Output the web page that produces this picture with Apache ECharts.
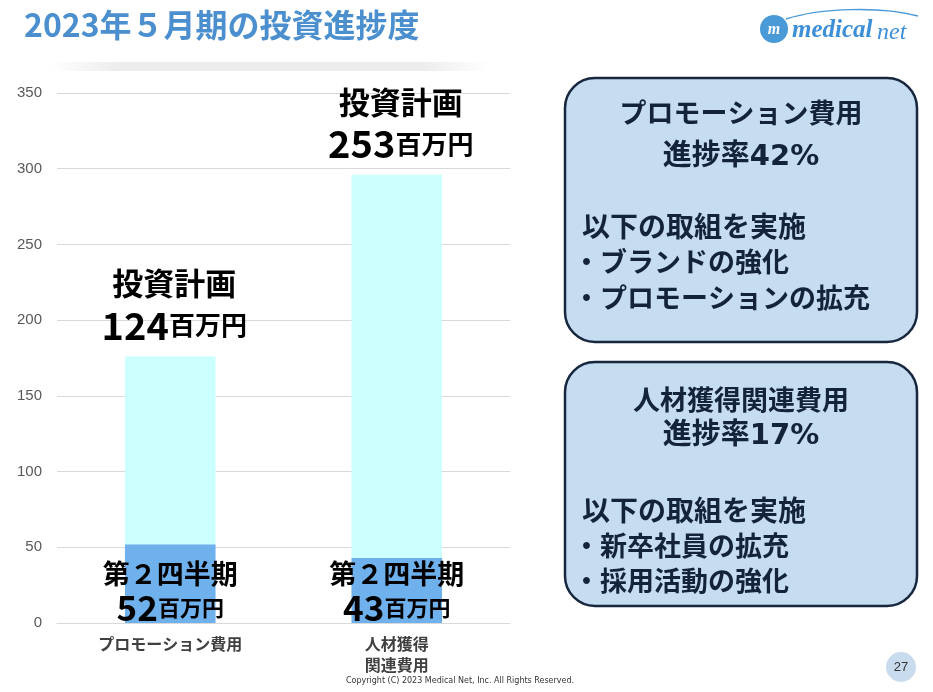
<!DOCTYPE html>
<html><head><meta charset="utf-8">
<script src="https://cdn.jsdelivr.net/npm/echarts@6/dist/echarts.min.js"></script>
<style>html,body{margin:0;padding:0;background:#fff}#c{width:933px;height:692px}</style>
</head><body><div id="c"></div>
<script>
const categories = ['プロモーション費用', '人材獲得\n関連費用'];
const q2Values = [52, 43];
const planValues = [124, 253];
const yTicks = { min: 0, max: 350, interval: 50 };
const box1Lines = ['プロモーション費用', '進捗率42%', '以下の取組を実施', '・ブランドの強化', '・プロモーションの拡充'];
const box2Lines = ['人材獲得関連費用', '進捗率17%', '以下の取組を実施', '・新卒社員の拡充', '・採用活動の強化'];

const FF = '"Noto Sans CJK JP", "Noto Sans", sans-serif';
const FD = '"DejaVu Sans", "Noto Sans CJK JP", sans-serif';
const chart = echarts.init(document.getElementById('c'), null, { renderer: 'canvas' });

function boxGraphics(y0, h, lines, ys) {
  const out = [{
    type: 'rect', shape: { x: 565, y: y0, width: 352, height: h, r: 30 },
    style: { fill: '#c6dcf0', stroke: '#17273d', lineWidth: 2.5 }
  }];
  const fonts = ['bold 27px ' + FF, 'bold 29px ' + FD, 'bold 28px ' + FF, 'bold 27px ' + FF, 'bold 27px ' + FF];
  const xs = [741, 741, 582, 573, 573];
  lines.forEach((t, i) => {
    out.push({
      type: 'text', x: xs[i], y: ys[i],
      style: { text: t, fill: '#13233a', font: fonts[i],
        textAlign: i < 2 ? 'center' : 'left', textVerticalAlign: 'middle' }
    });
  });
  return out;
}

const option = {
  animation: false,
  backgroundColor: '#ffffff',
  grid: { left: 57, right: 423, top: 93, bottom: 69 },
  xAxis: {
    type: 'category', data: categories,
    axisLine: { show: true, lineStyle: { color: '#d9d9d9' } },
    axisTick: { show: false },
    axisLabel: { color: '#404040', fontSize: 16, fontWeight: 'bold', fontFamily: FF, lineHeight: 21, margin: 10 }
  },
  yAxis: {
    type: 'value', min: yTicks.min, max: yTicks.max, interval: yTicks.interval,
    axisLine: { show: false }, axisTick: { show: false },
    axisLabel: { color: '#595959', fontSize: 15, fontFamily: 'Liberation Sans, Arial, sans-serif', margin: 15 },
    splitLine: { lineStyle: { color: '#d9d9d9', width: 1 } }
  },
  series: [
    {
      name: '第２四半期', type: 'bar', stack: 's', data: q2Values, barWidth: '40%',
      itemStyle: { color: '#6fb1ec' },
      label: {
        show: true, position: 'insideBottom', distance: -2, color: '#000',
        formatter: p => '{t|第２四半期}\n{n|' + p.value + '}{u|百万円}',
        rich: {
          t: { fontSize: 27, fontWeight: 'bold', fontFamily: FF, color: '#000', lineHeight: 34 },
          n: { fontSize: 35, fontWeight: 'bold', fontFamily: FF, color: '#000', lineHeight: 34 },
          u: { fontSize: 22, fontWeight: 'bold', fontFamily: FF, color: '#000', lineHeight: 34 }
        }
      }
    },
    {
      name: '投資計画', type: 'bar', stack: 's', data: planValues, barWidth: '40%',
      itemStyle: { color: '#ccffff' },
      label: {
        show: true, position: 'top', distance: 10, color: '#000', offset: [4, 0],
        formatter: p => '{t|投資計画}\n{n|' + p.value + '}{u|百万円}',
        rich: {
          t: { fontSize: 31, fontWeight: 'bold', fontFamily: FF, color: '#000', lineHeight: 42 },
          n: { fontSize: 38, fontWeight: 'bold', fontFamily: FF, color: '#000', lineHeight: 42 },
          u: { fontSize: 26, fontWeight: 'bold', fontFamily: FF, color: '#000', lineHeight: 42 }
        }
      }
    }
  ],
  graphic: [
    { type: 'rect', shape: { x: 50, y: 62, width: 440, height: 9, r: 4 },
      style: { fill: new echarts.graphic.LinearGradient(0, 0, 1, 0, [
        { offset: 0, color: 'rgba(0,0,0,0)' }, { offset: 0.15, color: 'rgba(0,0,0,0.07)' },
        { offset: 0.85, color: 'rgba(0,0,0,0.07)' }, { offset: 1, color: 'rgba(0,0,0,0)' }]) } },
    { type: 'text', x: 24, y: 25, style: { text: '2023年５月期の投資進捗度', fill: '#4b8fcf', font: 'bold 32px ' + FF, textVerticalAlign: 'middle' } },
    // logo
    { type: 'bezierCurve', shape: { x1: 786, y1: 19, cpx1: 820, cpy1: 8, x2: 918, y2: 16, cpx2: 880, cpy2: 6 },
      style: { stroke: '#4a9ad8', lineWidth: 1.5, fill: null } },
    { type: 'circle', shape: { cx: 774, cy: 29, r: 14 }, style: { fill: '#4a9ad8' } },
    { type: 'text', x: 774, y: 30, style: { text: 'm', fill: '#fff', font: 'italic bold 16px "Liberation Serif", serif', textAlign: 'center', textVerticalAlign: 'middle' } },
    { type: 'text', x: 792, y: 31, style: { text: 'medical', fill: '#3d8fd8', font: 'italic bold 25px "Liberation Serif", serif', textVerticalAlign: 'middle' } },
    { type: 'text', x: 877, y: 33, style: { text: 'net', fill: '#3d8fd8', font: 'italic 24px "Liberation Serif", serif', textVerticalAlign: 'middle' } },
    ...boxGraphics(78, 264, box1Lines, [113, 157, 226, 262, 298]),
    ...boxGraphics(362, 244, box2Lines, [400, 436, 510, 546, 581]),
    { type: 'circle', shape: { cx: 901, cy: 667, r: 15 }, style: { fill: '#c8dcee' } },
    { type: 'text', x: 901, y: 667, style: { text: '27', fill: '#333', font: '13px "Liberation Sans", sans-serif', textAlign: 'center', textVerticalAlign: 'middle' } },
    { type: 'text', x: 460, y: 681, style: { text: 'Copyright (C) 2023 Medical Net, Inc. All Rights Reserved.', fill: '#333', font: '8px "DejaVu Sans", sans-serif', textAlign: 'center', textVerticalAlign: 'middle' } }
  ]
};
chart.setOption(option);
</script></body></html>
